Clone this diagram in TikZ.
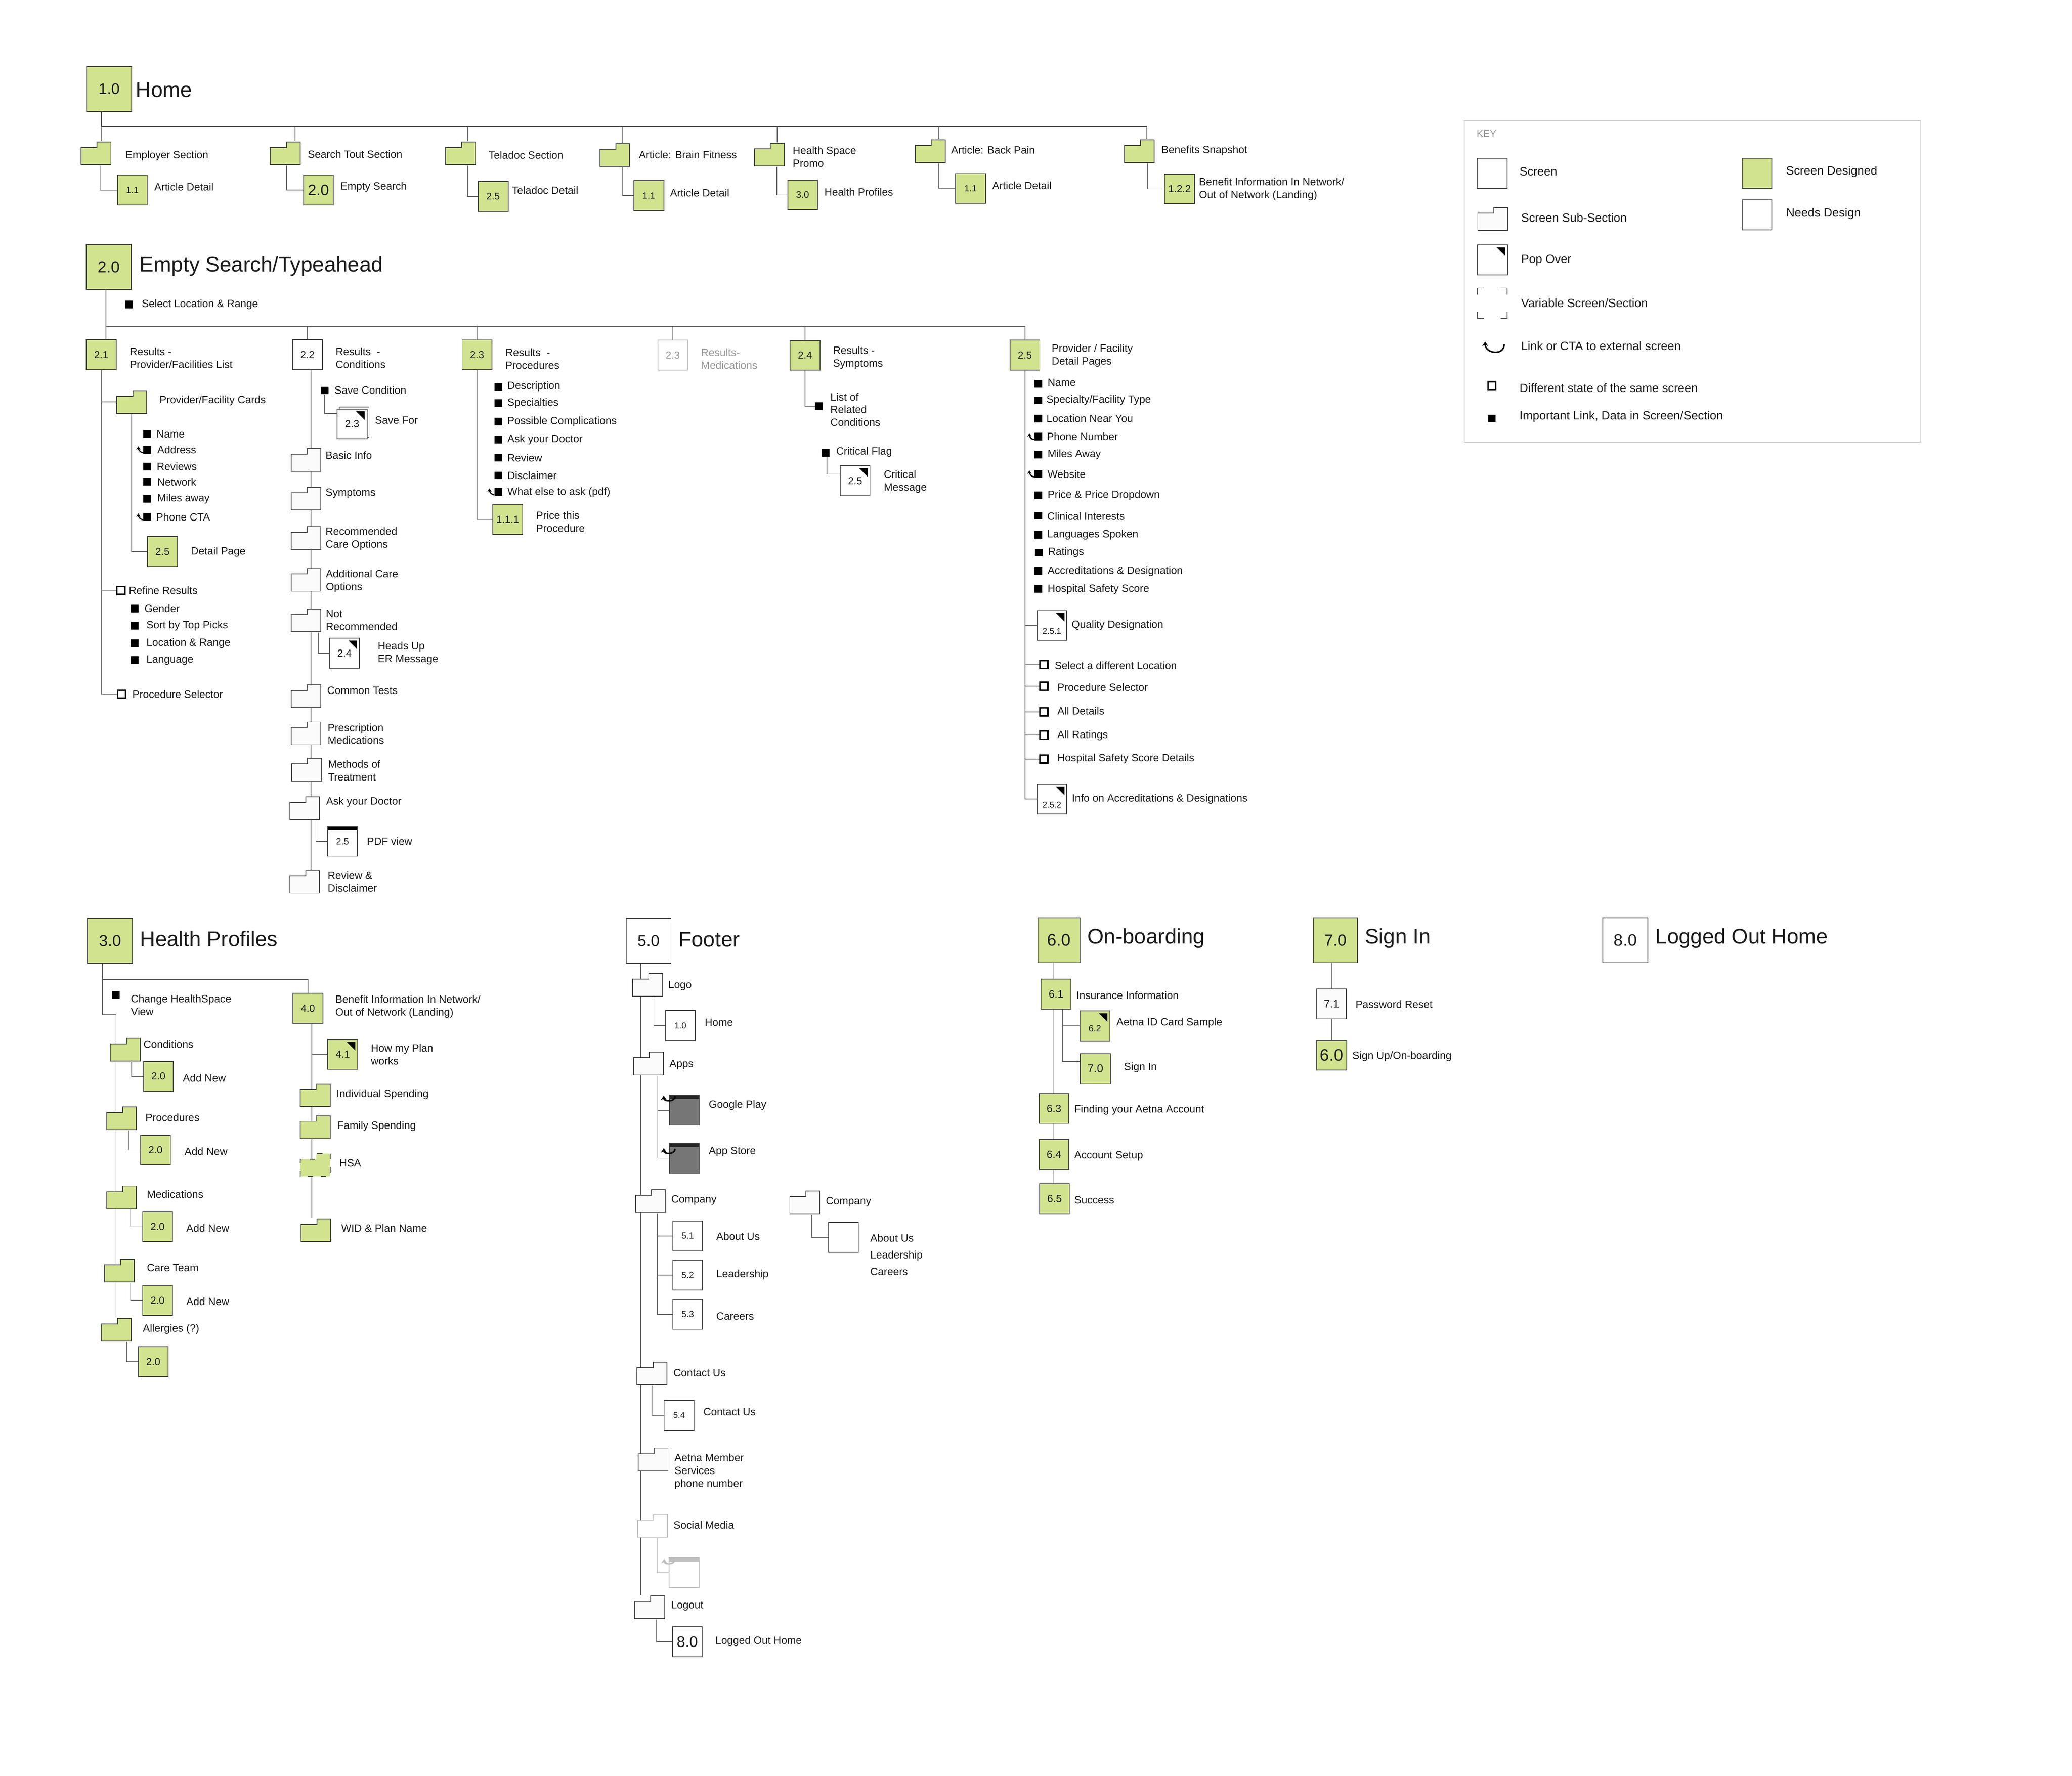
\documentclass[tikz,border=0pt]{standalone}
\usepackage{fontspec}
\setmainfont{Liberation Sans}
\usepackage{xcolor}
\usepackage{tikz}
\usetikzlibrary{positioning, arrows.meta}
\pgfdeclarelayer{background}
\pgfsetlayers{background,main}

\definecolor{designed}{RGB}{209,227,143}
\definecolor{edge}{RGB}{70,70,70}
\definecolor{wirecol}{RGB}{100,100,100}
\definecolor{ink}{RGB}{26,26,26}
\definecolor{subfill}{RGB}{250,251,250}
\definecolor{appgray}{RGB}{118,118,118}
\definecolor{faded}{RGB}{190,190,190}
\definecolor{fadedtext}{RGB}{150,150,150}
\definecolor{keyline}{RGB}{205,205,205}

\begin{document}
\begin{tikzpicture}[x=1pt, y=-1pt,
    every node/.style={text=ink, font=\fontsize{8}{9.7}\selectfont},
    scr/.style={draw=edge, line width=0.6pt, fill=white, minimum width=22.6pt, minimum height=22.6pt, inner sep=0pt, font=\fontsize{7.7}{9}\selectfont},
    done/.style={scr, fill=designed},
    bigbox/.style={minimum width=34pt, minimum height=34pt, font=\fontsize{12}{14}\selectfont},
    nsmall/.style={font=\fontsize{6.8}{8}\selectfont},
    nlarge/.style={font=\fontsize{11.5}{13}\selectfont},
    pop/.style={path picture={\fill[black] ([shift={(-1.8pt,-1.8pt)}]path picture bounding box.north east) -- ++(-6.5pt,0pt) -- ++(6.5pt,-6.5pt) -- cycle;}},
    topbar/.style={path picture={\fill[#1] (path picture bounding box.north west) rectangle ([yshift=-2.7pt]path picture bounding box.north east);}},
    fldr/.style n args={3}{minimum width=23.4pt, minimum height=18pt, inner sep=0pt, path picture={
      \draw[draw=#2, line width=0.6pt, fill=#1, #3] ([shift={(0.4pt,0.4pt)}]path picture bounding box.south west)
        -- ([shift={(0.4pt,-4.6pt)}]path picture bounding box.north west) -- ([shift={(-10.9pt,-4.6pt)}]path picture bounding box.north east)
        -- ([shift={(-10.9pt,-0.4pt)}]path picture bounding box.north east) -- ([shift={(-0.4pt,-0.4pt)}]path picture bounding box.north east)
        -- ([shift={(-0.4pt,0.4pt)}]path picture bounding box.south east) -- cycle;}},
    folder/.style={fldr={subfill}{edge}{solid}},
    gfolder/.style={fldr={designed}{edge}{solid}},
    hsafolder/.style={fldr={designed}{edge}{dash pattern=on 4pt off 6pt}},
    ffolder/.style={fldr={white}{faded}{solid}},
    bul/.style={fill=black, minimum width=5.8pt, minimum height=5.8pt, inner sep=0pt},
    hollow/.style={draw=black, line width=1.1pt, fill=white, minimum width=6pt, minimum height=6pt, inner sep=0pt},
    lbl/.style={anchor=west, align=left, inner sep=0pt},
    ttl/.style={anchor=west, inner sep=0pt, font=\fontsize{16}{19}\selectfont},
    klbl/.style={lbl, font=\fontsize{9}{11}\selectfont},
    wire/.style={draw=wirecol, line width=0.55pt},
    bus/.style={draw=edge, line width=0.9pt},
    hooklink/.style={line width=0.9pt, -{Stealth[length=2.6pt, width=3.2pt]}},
    linkarr/.style={line width=1.1pt, -{Stealth[length=3.4pt, width=4.4pt]}},
    appbox/.style={scr, fill=appgray, topbar=black!85}]

  \useasboundingbox (0,0) rectangle (1568,1344);

  % 1.0 Home
  \node[done, bigbox, nlarge] (home) at (82.6,67.4) {1.0};
  \node[ttl] (homet) at (102.5,68) {Home};
  \coordinate (hend) at (867.9,96);
  \node[gfolder] (emp) at (72.6,116) {};
  \node[lbl] (empl) at (94.8,117.9) {Employer Section};
  \node[gfolder] (srch) at (215.9,116) {};
  \node[lbl] (srchl) at (232.7,116.6) {Search Tout Section};
  \node[gfolder] (tel) at (348.5,116) {};
  \node[lbl] (tell) at (369.6,117.4) {Teladoc Section};
  \node[gfolder] (brain) at (465.3,117.3) {};
  \node[lbl] (brainl) at (483.3,117.1) {Article: Brain Fitness};
  \node[gfolder] (hsp) at (582.2,117) {};
  \node[lbl] (hspl) at (599.7,118.7) {Health Space\\Promo};
  \node[gfolder] (back) at (704,114.5) {};
  \node[lbl] (backl) at (719.6,113.6) {Article: Back Pain};
  \node[gfolder] (ben) at (862.2,114.5) {};
  \node[lbl] (benl) at (878.8,114.1) {Benefits Snapshot};
  \node[done, nsmall] (ad1) at (100.2,143.9) {1.1};
  \node[lbl] (ad1l) at (116.6,141.5) {Article Detail};
  \node[done, nlarge] (es) at (241,143.8) {2.0};
  \node[lbl] (esl) at (257.4,141.5) {Empty Search};
  \node[done, font=\fontsize{7.3}{9}\selectfont] (tdet) at (373.2,148.6) {2.5};
  \node[lbl] (tdetl) at (387.2,143.9) {Teladoc Detail};
  \node[done, nsmall] (ad2) at (491,148) {1.1};
  \node[lbl] (ad2l) at (506.9,145.8) {Article Detail};
  \node[done, font=\fontsize{7.1}{9}\selectfont] (hp) at (607.4,147.5) {3.0};
  \node[lbl] (hpl) at (623.7,145.2) {Health Profiles};
  \node[done, nsmall] (ad3) at (734.5,142.6) {1.1};
  \node[lbl] (ad3l) at (750.7,140.3) {Article Detail};
  \node[done] (bi) at (892.6,143) {1.2.2};
  \node[lbl] (bil) at (907.2,143.3) {Benefit Information In Network/\\Out of Network (Landing)};

  % key
  \node[draw=keyline, line width=0.6pt, minimum width=345pt, minimum height=243.4pt, inner sep=0pt] (key) at (1280.5,213) {};
  \node[lbl, text=fadedtext, font=\fontsize{7.5}{9}\selectfont] (keyt) at (1117.2,101.2) {KEY};
  \node[scr] (kscr) at (1129.2,131.2) {};
  \node[klbl] (kscrl) at (1149.7,129.9) {Screen};
  \node[folder] (ksub) at (1129.6,165.6) {};
  \node[klbl] (ksubl) at (1150.9,164.6) {Screen Sub-Section};
  \node[scr, pop] (kpop) at (1129.5,196.7) {};
  \node[klbl] (kpopl) at (1150.9,196.9) {Pop Over};
  \node[minimum width=22.2pt, minimum height=22.5pt, inner sep=0pt] (kvar) at (1129.3,229.4) {};
  \node[klbl] (kvarl) at (1150.9,229.2) {Variable Screen/Section};
  \node[minimum width=15.8pt, minimum height=9pt, inner sep=0pt] (klink) at (1131,262.7) {};
  \node[klbl] (klinkl) at (1150.9,261.8) {Link or CTA to external screen};
  \node[hollow] (kstate) at (1129,291.8) {};
  \node[klbl] (kstatel) at (1149.7,293.5) {Different state of the same screen};
  \node[bul] (kbul) at (1129,316.6) {};
  \node[klbl] (kbull) at (1149.7,315.3) {Important Link, Data in Screen/Section};
  \node[done] (kdone) at (1329.6,131.2) {};
  \node[klbl] (kdonel) at (1351.4,129.9) {Screen Designed};
  \node[scr] (kneed) at (1329.6,162.6) {};
  \node[klbl] (kneedl) at (1351.4,161.7) {Needs Design};
  \draw[edge, line width=0.6pt] ([yshift=-5pt]kvar.north west) |- ([xshift=5pt]kvar.north west);
  \draw[edge, line width=0.6pt] ([xshift=-5pt]kvar.north east) -| ([yshift=-5pt]kvar.north east);
  \draw[edge, line width=0.6pt] ([yshift=5pt]kvar.south west) |- ([xshift=5pt]kvar.south west);
  \draw[edge, line width=0.6pt] ([xshift=-5pt]kvar.south east) -| ([yshift=5pt]kvar.south east);
  \draw[linkarr] ([xshift=-0.8pt,yshift=-2.5pt]klink.north east) to[out=-90, in=-90, looseness=1.6] ([xshift=1pt,yshift=-0.5pt]klink.north west);

  % 2.0 Empty Search/Typeahead
  \node[done, bigbox] (es2) at (82.25,202) {2.0};
  \node[ttl] (es2t) at (105.6,201.5) {Empty Search/Typeahead};
  \node[bul] (sel) at (97.7,230.3) {};
  \node[lbl] (sell) at (107.1,230.4) {Select Location \& Range};
  \coordinate (b2) at (775.6,247);

  \node[done] (r21) at (76.6,268.4) {2.1};
  \node[lbl] (r21l) at (98,271) {Results -\\Provider/Facilities List};
  \node[gfolder] (cards) at (99.7,304.2) {};
  \node[lbl] (cardsl) at (120.5,303.2) {Provider/Facility Cards};
  \node[bul] (cd1) at (111.4,328.4) {};
  \node[lbl] (cd1l) at (118.2,328.4) {Name};
  \node[bul] (cd2) at (111.4,340.4) {};
  \node[lbl] (cd2l) at (118.9,340.4) {Address};
  \node[bul] (cd3) at (111.4,353.1) {};
  \node[lbl] (cd3l) at (118.5,353.1) {Reviews};
  \node[bul] (cd4) at (111.4,364.6) {};
  \node[lbl] (cd4l) at (118.9,364.6) {Network};
  \node[bul] (cd5) at (111.4,377.4) {};
  \node[lbl] (cd5l) at (118.9,377.4) {Miles away};
  \node[bul] (cd6) at (111.4,391.2) {};
  \node[lbl] (cd6l) at (118,391.2) {Phone CTA};
  \node[done] (dp) at (123,417.4) {2.5};
  \node[lbl] (dpl) at (144.3,417.8) {Detail Page};
  \node[hollow] (refine) at (91.5,446.8) {};
  \node[lbl] (refinel) at (97.3,446.8) {Refine Results};
  \node[bul] (rf1) at (101.8,460.5) {};
  \node[lbl] (rf1l) at (109.1,460.5) {Gender};
  \node[bul] (rf2) at (101.8,473.5) {};
  \node[lbl] (rf2l) at (110.6,473.5) {Sort by Top Picks};
  \node[bul] (rf3) at (101.8,486.9) {};
  \node[lbl] (rf3l) at (110.6,486.9) {Location \& Range};
  \node[bul] (rf4) at (101.8,499.6) {};
  \node[lbl] (rf4l) at (110.6,499.6) {Language};
  \node[hollow] (psel) at (92,525.3) {};
  \node[lbl] (psell) at (100,525.3) {Procedure Selector};

  \node[scr] (r22) at (232.65,268.4) {2.2};
  \node[lbl] (r22l) at (253.8,271) {Results~ -\\Conditions};
  \node[bul] (sc) at (245.8,295.5) {};
  \node[lbl] (scl) at (253,295.4) {Save Condition};
  \node[scr] (sfb) at (268,319.3) {};
  \node[scr, pop] (sf) at (266.5,320.8) {2.3};
  \node[lbl] (sfl) at (283.6,318.1) {Save For};
  \node[folder] (basic) at (231.6,348.2) {};
  \node[lbl] (basicl) at (246.2,344.7) {Basic Info};
  \node[folder] (symp) at (231.6,377.2) {};
  \node[lbl] (sympl) at (246.2,373.3) {Symptoms};
  \node[folder] (recc) at (231.6,407.1) {};
  \node[lbl] (reccl) at (246.2,407.8) {Recommended\\Care Options};
  \node[folder] (addc) at (231.6,438.8) {};
  \node[lbl] (addcl) at (246.4,439.9) {Additional Care\\Options};
  \node[folder] (notr) at (231.6,469.5) {};
  \node[lbl] (notrl) at (246.4,469.5) {Not\\Recommended};
  \node[scr, pop] (hu) at (260.7,494.3) {2.4};
  \node[lbl] (hul) at (285.7,494.3) {Heads Up\\ER Message};
  \node[folder] (ctest) at (231.6,527) {};
  \node[lbl] (ctestl) at (247.4,522.6) {Common Tests};
  \node[folder] (presc) at (231.6,555) {};
  \node[lbl] (prescl) at (247.8,555.4) {Prescription\\Medications};
  \node[folder] (meth) at (232,582.5) {};
  \node[lbl] (methl) at (248.1,583) {Methods of\\Treatment};
  \node[folder] (askd) at (230.6,611.6) {};
  \node[lbl] (askdl) at (246.7,607.1) {Ask your Doctor};
  \node[scr, topbar=black, font=\fontsize{7}{9}\selectfont] (pdf) at (259.2,636.7) {2.5};
  \node[lbl] (pdfl) at (277.5,636.8) {PDF view};
  \node[folder] (revd) at (230.6,667.3) {};
  \node[lbl] (revdl) at (247.8,667.2) {Review \&\\Disclaimer};

  \node[done] (r23) at (361,268.5) {2.3};
  \node[lbl] (r23l) at (382.3,271.6) {Results~ -\\Procedures};
  \node[bul] (pr1) at (377.1,292.8) {};
  \node[lbl] (pr1l) at (383.8,292.5) {Description};
  \node[bul] (pr2) at (377.1,305.2) {};
  \node[lbl] (pr2l) at (383.8,305.2) {Specialties};
  \node[bul] (pr3) at (377.1,319) {};
  \node[lbl] (pr3l) at (383.8,319) {Possible Complications};
  \node[bul] (pr4) at (377.1,332.6) {};
  \node[lbl] (pr4l) at (383.8,332.8) {Ask your Doctor};
  \node[bul] (pr5) at (377.1,346.2) {};
  \node[lbl] (pr5l) at (383.8,346.4) {Review};
  \node[bul] (pr6) at (377.1,359.8) {};
  \node[lbl] (pr6l) at (383.8,360) {Disclaimer};
  \node[bul] (pr7) at (377.1,372.3) {};
  \node[lbl] (pr7l) at (383.8,372.8) {What else to ask (pdf)};
  \node[done] (p111) at (384.2,393) {1.1.1};
  \node[lbl] (p111l) at (405.5,395) {Price this\\Procedure};

  \node[scr, draw=faded, text=fadedtext] (r23g) at (509.1,268.7) {2.3};
  \node[lbl, text=fadedtext] (r23gl) at (530.3,271.5) {Results-\\Medications};

  \node[done] (r24) at (609.2,268.9) {2.4};
  \node[lbl] (r24l) at (630.2,270.7) {Results -\\Symptoms};
  \node[bul] (lrc) at (619.7,307.3) {};
  \node[lbl] (lrcl) at (628.2,310) {List of\\Related\\Conditions};
  \node[bul] (cf) at (624.8,342.8) {};
  \node[lbl] (cfl) at (632.6,342.2) {Critical Flag};
  \node[scr, pop] (cm) at (647.1,363.8) {2.5};
  \node[lbl] (cml) at (668.7,364.4) {Critical\\Message};

  \node[done] (r25) at (775.6,268.7) {2.5};
  \node[lbl] (r25l) at (795.7,269.2) {Provider / Facility\\Detail Pages};
  \node[bul] (pd1) at (785.7,290.4) {};
  \node[lbl] (pd1l) at (792.6,289.6) {Name};
  \node[bul] (pd2) at (785.7,303) {};
  \node[lbl] (pd2l) at (791.7,303) {Specialty/Facility Type};
  \node[bul] (pd3) at (785.7,316.7) {};
  \node[lbl] (pd3l) at (791.7,316.7) {Location Near You};
  \node[bul] (pd4) at (785.7,330.5) {};
  \node[lbl] (pd4l) at (792,330.3) {Phone Number};
  \node[bul] (pd5) at (785.7,343.9) {};
  \node[lbl] (pd5l) at (792.6,344.1) {Miles Away};
  \node[bul] (pd6) at (785.7,358.7) {};
  \node[lbl] (pd6l) at (792.6,358.8) {Website};
  \node[bul] (pd7) at (785.7,374.9) {};
  \node[lbl] (pd7l) at (792.6,375) {Price \& Price Dropdown};
  \node[bul] (pd8) at (785.7,390.3) {};
  \node[lbl] (pd8l) at (792.3,390.7) {Clinical Interests};
  \node[bul] (pd9) at (785.7,404.6) {};
  \node[lbl] (pd9l) at (792.3,404.8) {Languages Spoken};
  \node[bul] (pd10) at (786.2,418.2) {};
  \node[lbl] (pd10l) at (793,418.1) {Ratings};
  \node[bul] (pd11) at (785.7,432) {};
  \node[lbl] (pd11l) at (792.6,432.2) {Accreditations \& Designation};
  \node[bul] (pd12) at (785.7,445.6) {};
  \node[lbl] (pd12l) at (792.6,445.9) {Hospital Safety Score};
  \node[scr, pop, font=\fontsize{6.4}{8}\selectfont] (qd) at (796,473.3) {\smash{\raisebox{-6.6pt}{2.5.1}}};
  \node[lbl] (qdl) at (810.8,473.3) {Quality Designation};
  \node[hollow] (sdl) at (789.9,502.9) {};
  \node[lbl] (sdll) at (798,503.6) {Select a different Location};
  \node[hollow] (ps2) at (789.9,519.4) {};
  \node[lbl] (ps2l) at (800,520.2) {Procedure Selector};
  \node[hollow] (alld) at (789.9,538.7) {};
  \node[lbl] (alldl) at (800,538.1) {All Details};
  \node[hollow] (allr) at (789.9,556.3) {};
  \node[lbl] (allrl) at (800,556.8) {All Ratings};
  \node[hollow] (hssd) at (789.9,574.4) {};
  \node[lbl] (hssdl) at (800,574.3) {Hospital Safety Score Details};
  \node[scr, pop, font=\fontsize{6.4}{8}\selectfont] (i252) at (796,604.7) {\smash{\raisebox{-6.6pt}{2.5.2}}};
  \node[lbl] (i252l) at (811,604.7) {Info on Accreditations \& Designations};

  \draw[hooklink] ([yshift=1pt]cd2.south west) to[out=180, in=-90] ++(-3.6pt,4.8pt);
  \draw[hooklink] ([yshift=1pt]cd6.south west) to[out=180, in=-90] ++(-3.6pt,4.8pt);
  \draw[hooklink] ([yshift=1pt]pr7.south west) to[out=180, in=-90] ++(-3.6pt,4.8pt);
  \draw[hooklink] ([yshift=1pt]pd4.south west) to[out=180, in=-90] ++(-3.6pt,4.8pt);
  \draw[hooklink] ([yshift=1pt]pd6.south west) to[out=180, in=-90] ++(-3.6pt,4.8pt);

  % 3.0 Health Profiles
  \node[done, bigbox] (hp3) at (83.3,712) {3.0};
  \node[ttl] (hp3t) at (105.8,710.4) {Health Profiles};
  \node[bul] (hvd) at (87.5,753.1) {};
  \node[lbl] (hvdl) at (98.8,760.8) {Change HealthSpace\\View};
  \coordinate (hpstep) at (87.8,768);
  \node[gfolder] (cond) at (94.9,794.4) {};
  \node[lbl] (condl) at (108.4,790.3) {Conditions};
  \node[done] (an1) at (119.9,814.6) {2.0};
  \node[lbl] (an1l) at (138.2,815.8) {Add New};
  \node[gfolder] (proc) at (92,846.2) {};
  \node[lbl] (procl) at (109.9,845.8) {Procedures};
  \node[done] (an2) at (117.7,870.3) {2.0};
  \node[lbl] (an2l) at (139.5,871.5) {Add New};
  \node[gfolder] (meds) at (92,906.2) {};
  \node[lbl] (medsl) at (111,903.7) {Medications};
  \node[done] (an3) at (119.2,928.4) {2.0};
  \node[lbl] (an3l) at (140.8,929.4) {Add New};
  \node[gfolder] (care) at (90.4,961.6) {};
  \node[lbl] (carel) at (111,959.4) {Care Team};
  \node[done] (an4) at (119.2,984.1) {2.0};
  \node[lbl] (an4l) at (140.8,985.1) {Add New};
  \node[gfolder] (allg) at (88,1006.4) {};
  \node[lbl] (allgl) at (107.9,1005.8) {Allergies (?)};
  \node[done] (an5) at (116,1030.5) {2.0};
  \node[done] (b40) at (233,763.1) {4.0};
  \node[lbl] (b40l) at (253.6,761.7) {Benefit Information In Network/\\Out of Network (Landing)};
  \node[done, pop] (hmp) at (259.4,798) {4.1};
  \node[lbl] (hmpl) at (280.5,797.9) {How my Plan\\works};
  \node[gfolder] (indiv) at (238.5,828.9) {};
  \node[lbl] (indivl) at (254.4,828.4) {Individual Spending};
  \node[gfolder] (fam) at (238.5,853) {};
  \node[lbl] (faml) at (255,852.5) {Family Spending};
  \node[hsafolder] (hsa) at (238.5,881.6) {};
  \node[lbl] (hsal) at (256.6,880.3) {HSA};
  \node[gfolder] (wid) at (239,931) {};
  \node[lbl] (widl) at (258.1,929.6) {WID \& Plan Name};

  % 5.0 Footer
  \node[scr, bigbox] (ft) at (490.8,712) {5.0};
  \node[ttl] (ftt) at (513.4,711) {Footer};
  \node[folder] (logo) at (490.1,745.3) {};
  \node[lbl] (logol) at (505.5,746.2) {Logo};
  \node[scr, font=\fontsize{6.5}{8}\selectfont] (fh) at (514.9,776.1) {1.0};
  \node[lbl] (fhl) at (533.2,773.7) {Home};
  \node[folder] (apps) at (490.7,804.9) {};
  \node[lbl] (appsl) at (506.4,805.8) {Apps};
  \node[appbox] (gplay) at (517.9,840.2) {};
  \node[lbl] (gplayl) at (536.2,836.6) {Google Play};
  \node[appbox] (astore) at (517.9,876.5) {};
  \node[lbl] (astorel) at (536.2,871.6) {App Store};
  \node[folder] (comp) at (492.2,909) {};
  \node[lbl] (compl) at (507.8,908.3) {Company};
  \node[scr, nsmall] (c51) at (520.4,935.3) {5.1};
  \node[lbl] (c51l) at (541.9,935.6) {About Us};
  \node[scr, nsmall] (c52) at (520.4,964.9) {5.2};
  \node[lbl] (c52l) at (541.9,964.8) {Leadership};
  \node[scr, nsmall] (c53) at (520.4,994.7) {5.3};
  \node[lbl] (c53l) at (541.9,996.2) {Careers};
  \node[folder] (comp2) at (609,910) {};
  \node[lbl] (comp2l) at (624.8,909.7) {Company};
  \node[scr] (cbox) at (638.3,936.4) {};
  \node[lbl, font=\fontsize{8}{12.7}\selectfont] (cboxl) at (658.4,949.5) {About Us\\Leadership\\Careers};
  \node[folder] (cont) at (493.4,1039.5) {};
  \node[lbl] (contl) at (509.4,1039) {Contact Us};
  \node[scr, font=\fontsize{6.4}{8}\selectfont] (c54) at (513.9,1071) {5.4};
  \node[lbl] (c54l) at (532.1,1068.4) {Contact Us};
  \node[folder] (aetna) at (494.2,1104.5) {};
  \node[lbl] (aetnal) at (510.2,1113.7) {Aetna Member\\Services\\phone number};
  \node[ffolder] (soc) at (493.8,1154.8) {};
  \node[lbl] (socl) at (509.5,1153.9) {Social Media};
  \node[scr, draw=faded, topbar=faded] (sm) at (517.7,1190.2) {};
  \node[folder] (lout) at (491.6,1216.2) {};
  \node[lbl] (loutl) at (507.6,1215.4) {Logout};
  \node[scr, nlarge] (lo8) at (520.1,1242.5) {8.0};
  \node[lbl] (lo8l) at (541.2,1242.3) {Logged Out Home};
  \draw[linkarr] ([shift={(4.5pt,-1pt)}]gplay.north west) to[out=-90, in=-90, looseness=1.4] ([shift={(-4pt,-0.5pt)}]gplay.north west);
  \draw[linkarr] ([shift={(4.5pt,-4.5pt)}]astore.north west) to[out=-90, in=-90, looseness=1.4] ([shift={(-4pt,-4pt)}]astore.north west);
  \draw[linkarr, faded] ([shift={(4.5pt,-1.5pt)}]sm.north west) to[out=-90, in=-90, looseness=1.4] ([shift={(-3.5pt,-1pt)}]sm.north west);

  % 6.0 On-boarding
  \node[done, bigbox, minimum width=31.8pt, font=\fontsize{12.8}{15}\selectfont] (ob) at (801.4,711.5) {6.0};
  \node[ttl] (obt) at (822.7,710) {On-boarding};
  \node[done, font=\fontsize{8}{9}\selectfont] (s61) at (799.2,752.4) {6.1};
  \node[lbl] (s61l) at (814.4,753.1) {Insurance Information};
  \node[done, pop, nsmall] (s62) at (828.5,776.3) {\smash{\raisebox{-4.4pt}{6.2}}};
  \node[lbl] (s62l) at (844.7,774.1) {Aetna ID Card Sample};
  \node[done, font=\fontsize{8.6}{10}\selectfont] (s70) at (828.9,808.7) {7.0};
  \node[lbl] (s70l) at (850.4,807.8) {Sign In};
  \node[done, font=\fontsize{8}{9}\selectfont] (s63) at (797.6,838.9) {6.3};
  \node[lbl] (s63l) at (812.8,840) {Finding your Aetna Account};
  \node[done, font=\fontsize{8}{9}\selectfont] (s64) at (797.6,873.8) {6.4};
  \node[lbl] (s64l) at (812.8,874.7) {Account Setup};
  \node[done, font=\fontsize{8}{9}\selectfont] (s65) at (798,907.2) {6.5};
  \node[lbl] (s65l) at (812.8,908.1) {Success};

  % 7.0 Sign In
  \node[done, bigbox, minimum width=33.6pt, font=\fontsize{12.2}{14}\selectfont] (si) at (1010.5,711.5) {7.0};
  \node[ttl] (sit) at (1032.6,710) {Sign In};
  \node[scr, fill=subfill, font=\fontsize{8.3}{10}\selectfont] (s71) at (1007.6,759.7) {7.1};
  \node[lbl] (s71l) at (1025.6,760.1) {Password Reset};
  \node[done, font=\fontsize{12.5}{14}\selectfont] (su6) at (1007.7,798.6) {6.0};
  \node[lbl] (su6l) at (1023.2,799.4) {Sign Up/On-boarding};

  % 8.0 Logged Out Home
  \node[scr, bigbox, font=\fontsize{12.5}{14}\selectfont] (lo) at (1230,711.5) {8.0};
  \node[ttl] (lot) at (1252.5,710) {Logged Out Home};

  \begin{pgfonlayer}{background}
    \draw[bus] ([xshift=-5.8pt]home.south) |- (hend);
    \draw[wire] ([xshift=4.2pt]emp.north) -- ([xshift=4.2pt]emp.north |- hend);
    \draw[wire] ([xshift=7.3pt]srch.north) -- ([xshift=7.3pt]srch.north |- hend);
    \draw[wire] ([xshift=5.3pt]tel.north) -- ([xshift=5.3pt]tel.north |- hend);
    \draw[wire] ([xshift=6pt]brain.north) -- ([xshift=6pt]brain.north |- hend);
    \draw[wire] ([xshift=5.9pt]hsp.north) -- ([xshift=5.9pt]hsp.north |- hend);
    \draw[wire] ([xshift=6.4pt]back.north) -- ([xshift=6.4pt]back.north |- hend);
    \draw[wire] ([xshift=5.7pt]ben.north) -- (hend);
    \draw[wire] ([xshift=3.2pt]emp.south) |- (ad1.west);
    \draw[wire] ([xshift=1pt]srch.south) |- (es.west);
    \draw[wire] ([xshift=5.3pt]tel.south) |- (tdet.west);
    \draw[wire] ([xshift=6pt]brain.south) |- (ad2.west);
    \draw[wire] ([xshift=5.6pt]hsp.south) |- (hp.west);
    \draw[wire] ([xshift=6.4pt]back.south) |- (ad3.west);
    \draw[wire] ([xshift=6.4pt]ben.south) |- (bi.west);

    \draw[wire] ([xshift=-2pt]es2.south) -- ([xshift=-2pt]es2.south |- r21.north);
    \draw[wire] ([xshift=-2pt]es2.south |- b2) -- (b2);
    \draw[wire] (r22.north) -- (r22.north |- b2);
    \draw[wire] (r23.north) -- (r23.north |- b2);
    \draw[wire] (r23g.north) -- (r23g.north |- b2);
    \draw[wire] (r24.north) -- (r24.north |- b2);
    \draw[wire] (r25.north) -- (b2);
    \draw[wire] ([xshift=0.4pt]r21.south) |- (psel.west);
    \draw[wire] ([xshift=0.4pt]r21.south |- cards.west) -- (cards.west);
    \draw[wire] ([xshift=0.4pt]r21.south |- refine.west) -- (refine.west);
    \draw[wire] (cards.south) |- (dp.west);
    \draw[wire] ([xshift=2.7pt]r22.south) -- ([xshift=2.7pt]r22.south |- revd.north);
    \draw[wire] (sc.south) |- ([yshift=8pt]sf.west);
    \draw[wire] ([xshift=9.3pt]notr.south) |- (hu.west);
    \draw[wire] ([xshift=8.4pt]askd.south) |- (pdf.west);
    \draw[wire] (r23.south) |- (p111.west);
    \draw[wire] (r24.south) |- (lrc.west);
    \draw[wire] ([xshift=0.9pt]cf.south) |- ([yshift=5pt]cm.west);
    \draw[wire] (r25.south) |- (i252.west);
    \draw[wire] (r25.south |- qd.west) -- (qd.west);
    \draw[wire] (r25.south |- sdl.west) -- (sdl.west);
    \draw[wire] (r25.south |- ps2.west) -- (ps2.west);
    \draw[wire] (r25.south |- alld.west) -- (alld.west);
    \draw[wire] (r25.south |- allr.west) -- (allr.west);
    \draw[wire] (r25.south |- hssd.west) -- (hssd.west);

    \draw[wire] ([xshift=-5.8pt]hp3.south) |- ([yshift=10.2pt]b40.north) -- (b40.north);
    \draw[wire] ([xshift=-5.8pt]hp3.south) |- (hpstep) -- (hpstep |- allg.north);
    \draw[wire] ([xshift=4.8pt]cond.south) |- (an1.west);
    \draw[wire] ([xshift=5.5pt]proc.south) |- (an2.west);
    \draw[wire] ([xshift=6.8pt]meds.south) |- (an3.west);
    \draw[wire] ([xshift=8.4pt]care.south) |- (an4.west);
    \draw[wire] ([xshift=7.8pt]allg.south) |- (an5.west);
    \draw[wire] ([xshift=2.9pt]b40.south) -- ([xshift=2.9pt]b40.south |- wid.north);
    \draw[wire] ([xshift=2.9pt]b40.south |- hmp.west) -- (hmp.west);

    \draw[wire] ([xshift=-5.8pt]ft.south) -- ([xshift=-5.8pt]ft.south |- lout.north);
    \draw[wire] ([xshift=4.7pt]logo.south) |- (fh.west);
    \draw[wire] ([xshift=7pt]apps.south) |- (gplay.west);
    \draw[wire] ([xshift=7pt]apps.south) |- (astore.west);
    \draw[wire] ([xshift=5.3pt]comp.south) |- (c51.west);
    \draw[wire] ([xshift=5.3pt]comp.south) |- (c52.west);
    \draw[wire] ([xshift=5.3pt]comp.south) |- (c53.west);
    \draw[wire] ([xshift=5pt]comp2.south) |- (cbox.west);
    \draw[wire] (cont.south) |- (c54.west);
    \draw[wire, draw=faded] ([xshift=3.5pt]soc.south) |- (sm.west);
    \draw[wire] ([xshift=5.2pt]lout.south) |- (lo8.west);

    \draw[wire] ([xshift=-4.4pt]ob.south) -- ([xshift=-4.4pt]ob.south |- s65.north);
    \draw[wire] ([xshift=4.8pt]s61.south) |- (s62.west);
    \draw[wire] ([xshift=4.8pt]s61.south) |- ([yshift=5.4pt]s70.west);
    \draw[wire] (s71.north |- si.south) -- (su6.north);
  \end{pgfonlayer}
\end{tikzpicture}
\end{document}
